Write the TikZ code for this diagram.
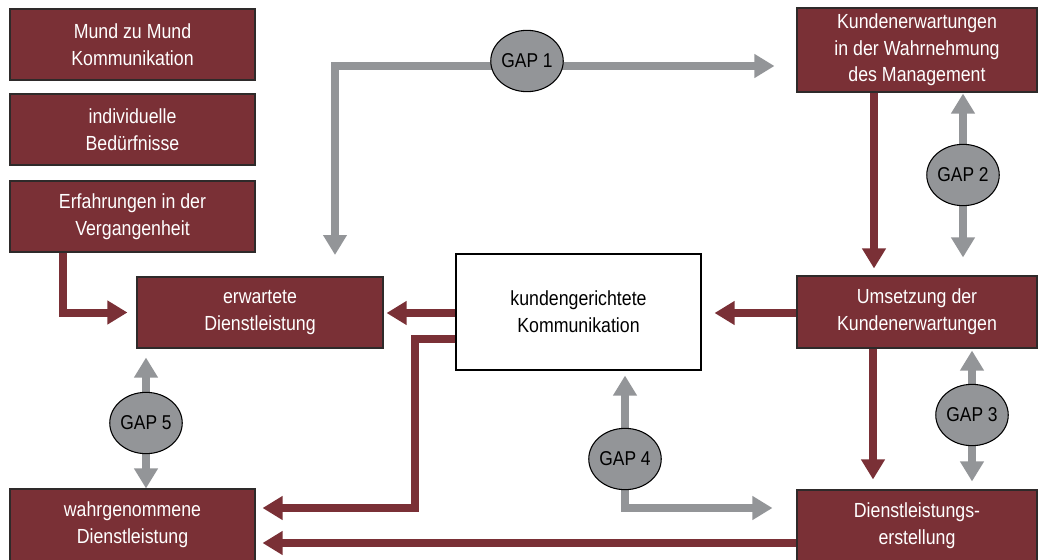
\documentclass[tikz,border=0pt]{standalone}
\usepackage{fontspec}
\setmainfont[FakeStretch=0.87]{Liberation Sans}
\usetikzlibrary{arrows.meta,shapes.geometric,backgrounds}
\definecolor{wine}{HTML}{7A3036}
\definecolor{gapgray}{HTML}{939598}
\definecolor{edge}{HTML}{2E2A2A}
\begin{document}
\begin{tikzpicture}[x=0.75pt,y=-0.75pt,
  box/.style={draw=edge,line width=0.8pt,fill=wine,text=white,align=center,inner sep=0pt,
    font=\fontsize{15.3}{20}\selectfont},
  whitebox/.style={box,fill=white,text=black,draw=black},
  gap/.style={ellipse,draw=black,line width=0.8pt,fill=gapgray,minimum width=54pt,minimum height=46pt,
    inner sep=0pt,font=\fontsize{15}{16}\selectfont},
  redarrow/.style={draw=wine,line width=6pt,-{Triangle[length=15pt,width=17pt]}},
  grayarrow/.style={draw=gapgray,line width=6pt,-{Triangle[length=15pt,width=17pt]}}]
\useasboundingbox (0,0) rectangle (1038,560);
% boxes
\node[box,minimum width=183.75pt,minimum height=53.25pt] (mund) at (132.5,44.5) {Mund zu Mund\\Kommunikation};
\node[box,minimum width=183.75pt,minimum height=53.25pt] (indiv) at (132.5,129.5) {individuelle\\Bedürfnisse};
\node[box,minimum width=183.75pt,minimum height=53.25pt] (erf) at (132.5,216.5) {Erfahrungen in der\\Vergangenheit};
\node[box,minimum width=184.5pt,minimum height=53.25pt] (erw) at (260,312.5) {erwartete\\Dienstleistung};
\node[box,minimum width=183.75pt,minimum height=54pt] (wahr) at (132.5,525) {wahrgenommene\\Dienstleistung};
\node[whitebox,minimum width=183.75pt,minimum height=87pt] (komm) at (578.5,312) {kundengerichtete\\Kommunikation};
\node[box,minimum width=180pt,minimum height=63pt] (kwm) at (917,50) {Kundenerwartungen\\in der Wahrnehmung\\des Management};
\node[box,minimum width=180pt,minimum height=54pt] (ums) at (917,312) {Umsetzung der\\Kundenerwartungen};
\node[box,minimum width=180pt,minimum height=53.25pt] (dle) at (917,525.5) {Dienstleistungs-\\erstellung};
% gaps
\node[gap] (gap1) at (527,61) {GAP 1};
\node[gap] (gap2) at (963,175) {GAP 2};
\node[gap] (gap3) at (972,415) {GAP 3};
\node[gap] (gap4) at (625,459) {GAP 4};
\node[gap] (gap5) at (146,423) {GAP 5};
\begin{scope}[on background layer]
% gap 1
\draw[grayarrow,shorten >=16.5pt] (gap1.center |- 0,66) -- (kwm.west |- 0,66);
\draw[grayarrow,shorten >=16.5pt] (gap1.center |- 0,66) -| (335,277);
% gap 2
\draw[grayarrow,shorten >=0.75pt] (gap2.center) -- (kwm.south -| gap2.center);
\draw[grayarrow,shorten >=13.5pt] (gap2.center) -- (ums.north -| gap2.center);
% gap 3
\draw[grayarrow,shorten >=1.5pt] (gap3.center) -- (ums.south -| gap3.center);
\draw[grayarrow,shorten >=6pt] (gap3.center) -- (dle.north -| gap3.center);
% gap 4
\draw[grayarrow,shorten >=3.75pt] (gap4.center) -- (komm.south -| gap4.center);
\draw[grayarrow,shorten >=18pt] (gap4.center) |- (dle.west |- 0,508);
% gap 5
\draw[grayarrow,shorten >=6.75pt] (gap5.center) -- (erw.south -| gap5.center);
\draw[grayarrow,shorten >=0pt] (gap5.center) -- (wahr.north -| gap5.center);
\end{scope}
% red arrows
\draw[redarrow,shorten >=6.75pt] (erf.south -| 63,0) |- (erw.west);
\draw[redarrow,shorten >=2.25pt] (komm.west |- 0,313) -- (erw.east |- 0,313);
\draw[redarrow,shorten >=9.75pt] (ums.west |- 0,313) -- (komm.east |- 0,313);
\draw[redarrow,shorten >=5.25pt] (kwm.south -| 874,0) -- (ums.north -| 874,0);
\draw[redarrow,shorten >=7.5pt] (ums.south -| 873,0) -- (dle.north -| 873,0);
\draw[redarrow,shorten >=5.25pt] (komm.west |- 0,339) -| (415,508) -- (wahr.east |- 0,508);
\draw[redarrow,shorten >=5.25pt] (dle.west |- 0,543) -- (wahr.east |- 0,543);
\end{tikzpicture}
\end{document}
